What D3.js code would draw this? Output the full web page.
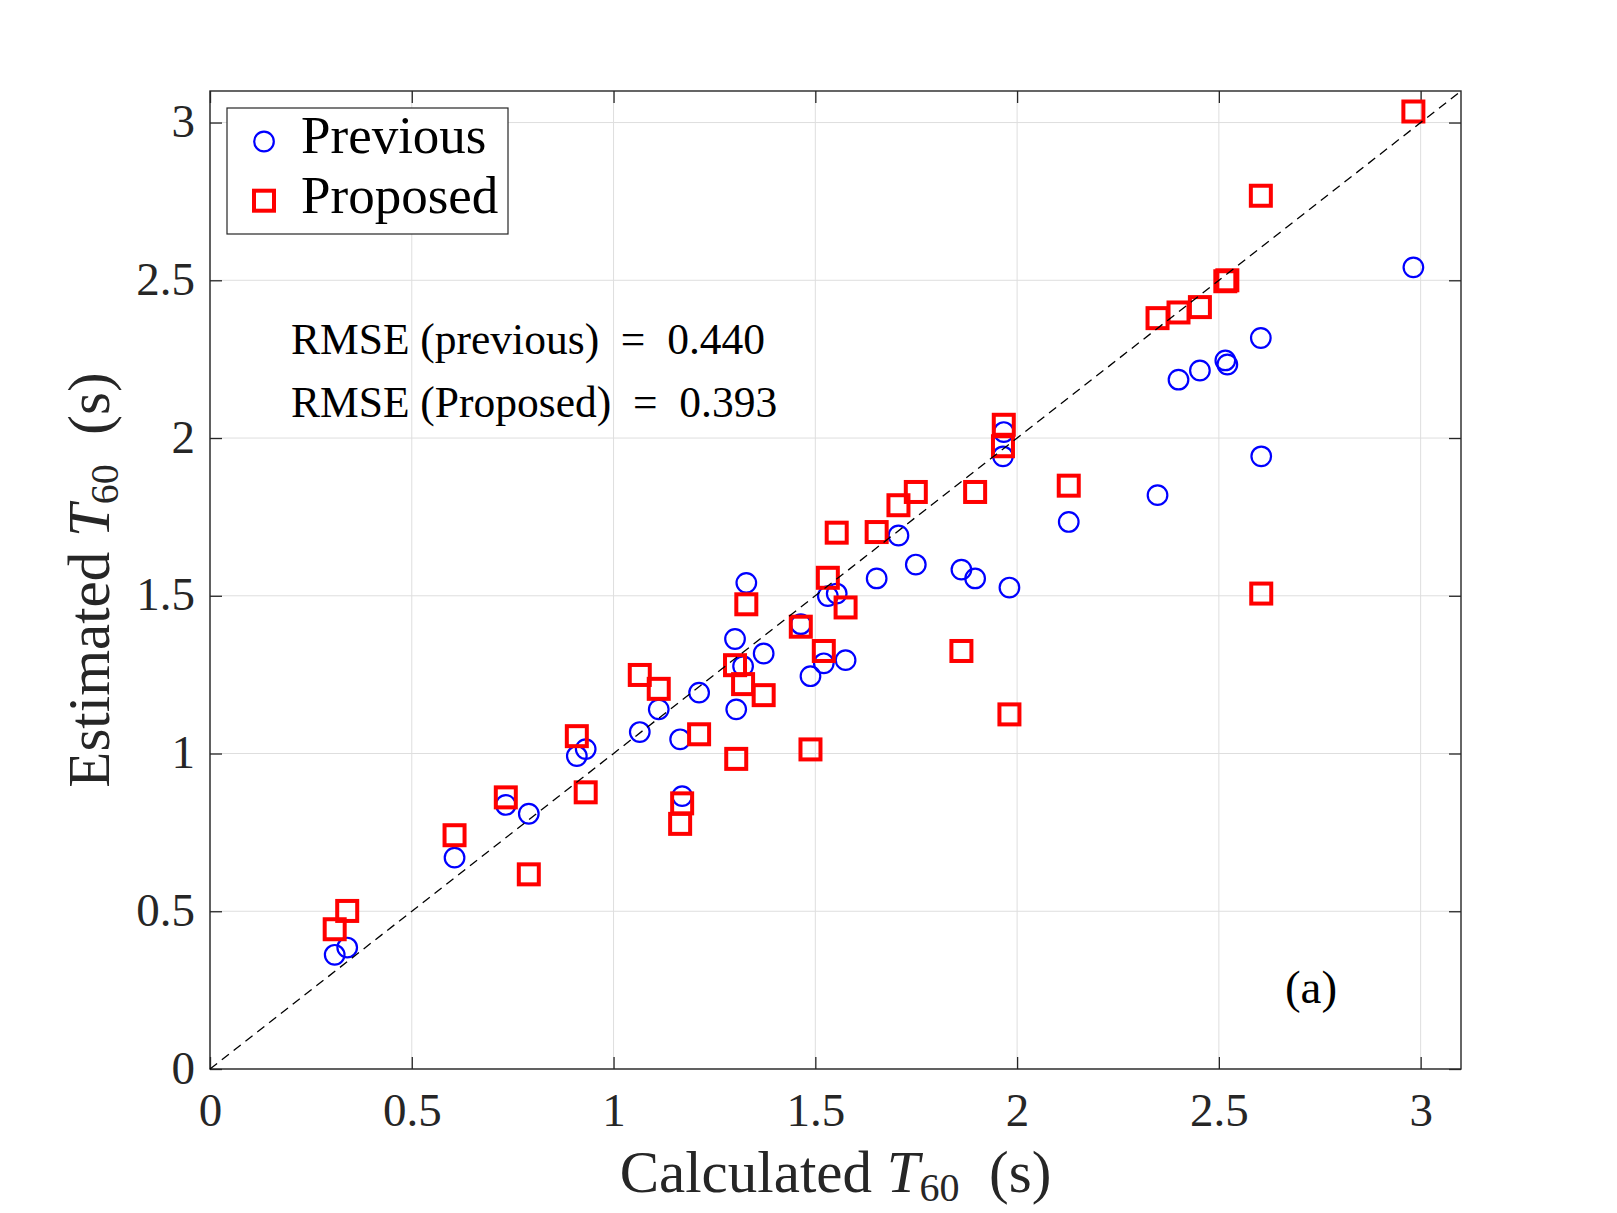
<!DOCTYPE html>
<html>
<head>
<meta charset="utf-8">
<script src="https://cdn.jsdelivr.net/npm/d3@7"></script>
<style>
  html, body { margin: 0; padding: 0; background: #fff; }
  svg { display: block; font-family: "Liberation Serif", "Times New Roman", serif; }
  svg text { font-family: "Liberation Serif", "Times New Roman", serif; }
</style>
</head>
<body>
<svg id="chart" width="1617" height="1213"></svg>
<script>
// ---- data ----
const calcT60 = [0.309, 0.340, 0.606, 0.733, 0.790, 0.909, 0.931, 1.065, 1.112, 1.165,
                 1.170, 1.212, 1.301, 1.304, 1.321, 1.329, 1.372, 1.464, 1.488, 1.521,
                 1.531, 1.553, 1.575, 1.652, 1.706, 1.749, 1.862, 1.896, 1.965, 1.967,
                 1.981, 2.128, 2.348, 2.400, 2.453, 2.516, 2.521, 2.604, 2.605, 2.982];
const previousT60 = [0.362, 0.385, 0.670, 0.837, 0.809, 0.992, 1.014, 1.068, 1.140, 1.045,
                     0.865, 1.193, 1.363, 1.140, 1.277, 1.541, 1.317, 1.410, 1.245, 1.286,
                     1.499, 1.507, 1.296, 1.555, 1.691, 1.599, 1.583, 1.555, 1.942, 2.019,
                     1.526, 1.734, 1.819, 2.185, 2.214, 2.246, 2.233, 2.317, 1.942, 2.541];
const proposedT60 = [0.443, 0.501, 0.741, 0.861, 0.617, 1.055, 0.877, 1.249, 1.205, 0.777,
                     0.842, 1.061, 1.280, 0.983, 1.220, 1.473, 1.185, 1.402, 1.013, 1.325,
                     1.557, 1.700, 1.463, 1.702, 1.787, 1.829, 1.325, 1.829, 1.974, 2.042,
                     1.124, 1.849, 2.380, 2.398, 2.415, 2.497, 2.500, 2.768, 1.507, 3.035];
const xTicks = [0, 0.5, 1, 1.5, 2, 2.5, 3];
const yTicks = [0, 0.5, 1, 1.5, 2, 2.5, 3];
const xTickLabels = ["0", "0.5", "1", "1.5", "2", "2.5", "3"];
const yTickLabels = ["0", "0.5", "1", "1.5", "2", "2.5", "3"];
const axisDomain = [0, 3.1];
const seriesNames = ["Previous", "Proposed"];
const rmseLines = ["RMSE (previous) = 0.440", "RMSE (Proposed) = 0.393"];
const panelTag = "(a)";

// ---- layout ----
const FONT = '"Liberation Serif", "Times New Roman", serif';
const L = 210, R = 1461, T = 91, B = 1069;
const svg = d3.select("#chart");
svg.append("rect").attr("width", 1617).attr("height", 1213).attr("fill", "#fff");

const x = d3.scaleLinear().domain(axisDomain).range([L, R]);
const y = d3.scaleLinear().domain(axisDomain).range([B, T]);
const axisColor = "#262626";

// grid
const grid = svg.append("g");
grid.selectAll("line.gx").data(xTicks).enter().append("line")
  .attr("x1", d => x(d)).attr("x2", d => x(d)).attr("y1", T).attr("y2", B)
  .attr("stroke", "#dedede").attr("stroke-width", 1);
grid.selectAll("line.gy").data(yTicks).enter().append("line")
  .attr("y1", d => y(d)).attr("y2", d => y(d)).attr("x1", L).attr("x2", R)
  .attr("stroke", "#dedede").attr("stroke-width", 1);

// axes with inward ticks on all four sides
const tickLen = 12;
const fmtX = d => xTickLabels[xTicks.indexOf(d)];
const fmtY = d => yTickLabels[yTicks.indexOf(d)];

const gBottom = svg.append("g").attr("transform", `translate(0,${B})`)
  .call(d3.axisBottom(x).tickValues(xTicks).tickFormat(fmtX).tickSizeInner(-tickLen).tickSizeOuter(0).tickPadding(20));
const gTop = svg.append("g").attr("transform", `translate(0,${T})`)
  .call(d3.axisTop(x).tickValues(xTicks).tickFormat("").tickSizeInner(-tickLen).tickSizeOuter(0));
const gLeft = svg.append("g").attr("transform", `translate(${L},0)`)
  .call(d3.axisLeft(y).tickValues(yTicks).tickFormat(fmtY).tickSizeInner(-tickLen).tickSizeOuter(0).tickPadding(15));
const gRight = svg.append("g").attr("transform", `translate(${R},0)`)
  .call(d3.axisRight(y).tickValues(yTicks).tickFormat("").tickSizeInner(-tickLen).tickSizeOuter(0));

[gBottom, gTop, gLeft, gRight].forEach(g => {
  g.attr("font-family", FONT).attr("font-size", 47);
  g.select(".domain").remove();
  g.selectAll(".tick line").attr("stroke", axisColor).attr("stroke-width", 1.3);
  g.selectAll(".tick text").attr("fill", axisColor);
});
gBottom.selectAll(".tick text").attr("dy", null).attr("y", 57);
gLeft.selectAll(".tick text").attr("dy", null).attr("y", 14);

// box
svg.append("rect").attr("x", L).attr("y", T).attr("width", R - L).attr("height", B - T)
  .attr("fill", "none").attr("stroke", axisColor).attr("stroke-width", 1.4);

// markers
const plot = svg.append("g");
const circR = 9.8, sq = 20;
plot.selectAll("circle.prev").data(calcT60).enter().append("circle")
  .attr("cx", d => x(d)).attr("cy", (d, i) => y(previousT60[i])).attr("r", circR)
  .attr("fill", "none").attr("stroke", "#0000ff").attr("stroke-width", 2.2);
plot.selectAll("rect.prop").data(calcT60).enter().append("rect")
  .attr("x", d => x(d) - sq / 2).attr("y", (d, i) => y(proposedT60[i]) - sq / 2)
  .attr("width", sq).attr("height", sq)
  .attr("fill", "none").attr("stroke", "#ff0000").attr("stroke-width", 4);

// 1:1 dashed line
svg.append("line")
  .attr("x1", x(axisDomain[0])).attr("y1", y(axisDomain[0]))
  .attr("x2", x(axisDomain[1])).attr("y2", y(axisDomain[1]))
  .attr("stroke", "#000").attr("stroke-width", 1.3).attr("stroke-dasharray", "9,6");

// legend
const lg = svg.append("g");
lg.append("rect").attr("x", 227).attr("y", 108).attr("width", 281).attr("height", 126)
  .attr("fill", "#fff").attr("stroke", axisColor).attr("stroke-width", 1.2);
lg.append("circle").attr("cx", 264).attr("cy", 141.5).attr("r", 9.8)
  .attr("fill", "none").attr("stroke", "#0000ff").attr("stroke-width", 2.2);
lg.append("rect").attr("x", 264 - 10).attr("y", 200.7 - 10).attr("width", 20).attr("height", 20)
  .attr("fill", "none").attr("stroke", "#ff0000").attr("stroke-width", 4);
lg.selectAll("text").data(seriesNames).enter().append("text")
  .attr("x", 301).attr("y", (d, i) => i === 0 ? 153 : 213)
  .attr("fill", "#000").style("font-size", "53px").text(d => d);

// RMSE annotations
svg.selectAll("text.rmse").data(rmseLines).enter().append("text")
  .attr("class", "rmse").attr("x", 291).attr("y", (d, i) => i === 0 ? 354 : 417)
  .attr("fill", "#000").style("font-size", "43.5px").attr("xml:space", "preserve")
  .text(d => d.replace(" = ", "  =  "));

// panel tag
svg.append("text").attr("x", 1311).attr("y", 1003).attr("text-anchor", "middle")
  .attr("fill", "#000").style("font-size", "47px").text(panelTag);

// axis labels
function labelWithT60(sel, prefix) {
  sel.append("tspan").text(prefix + " ");
  sel.append("tspan").style("font-style", "italic").text("T");
  sel.append("tspan").attr("dy", 9).style("font-size", "40px").text("60");
  sel.append("tspan").attr("dy", -9).text("  (s)");
}
const xl = svg.append("text").attr("x", (L + R) / 2).attr("y", 1192)
  .attr("text-anchor", "middle").attr("fill", axisColor).style("font-size", "59px")
  .attr("xml:space", "preserve");
labelWithT60(xl, "Calculated");
const yl = svg.append("text").attr("transform", `translate(109,${(T + B) / 2}) rotate(-90)`)
  .attr("text-anchor", "middle").attr("fill", axisColor).style("font-size", "59px")
  .attr("xml:space", "preserve");
labelWithT60(yl, "Estimated");
</script>
</body>
</html>
